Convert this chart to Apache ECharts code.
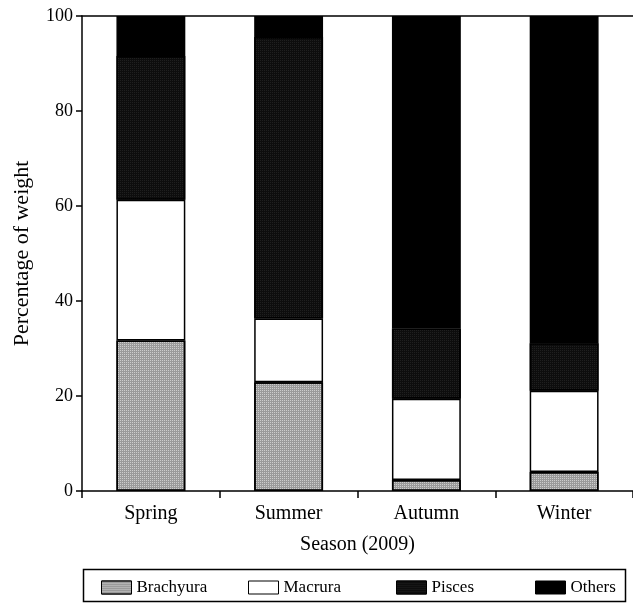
<!DOCTYPE html>
<html>
<head>
<meta charset="utf-8">
<script src="https://cdn.jsdelivr.net/npm/echarts@6/dist/echarts.min.js"></script>
<style>
  html, body { margin: 0; padding: 0; background: #fff; }
  #chart { width: 633px; height: 605px; }
</style>
</head>
<body>
<div id="chart"></div>
<script>
const seasons = ["Spring", "Summer", "Autumn", "Winter"];
const yTicks = [0, 20, 40, 60, 80, 100];

// percentage of weight per prey group
const brachyura = [31.7, 22.9, 2.3, 4.0];
const macrura = [29.6, 13.4, 17.1, 17.1];
const pisces = [30.3, 59.3, 14.8, 10.0];
const others = [8.4, 4.4, 65.8, 68.9];

const font = "'Liberation Serif', 'DejaVu Serif', serif";

const chart = echarts.init(document.getElementById("chart"));

function bar(name, data, color, decal) {
  return {
    name: name,
    type: "bar",
    stack: "total",
    barWidth: "50%",
    data: data,
    itemStyle: {
      color: color,
      borderColor: "#000",
      borderWidth: 1.5,
      decal: decal
    }
  };
}

// stipple texture
const dots = {
  symbol: "rect",
  symbolSize: 1,
  color: "rgba(255,255,255,0.5)",
  dashArrayX: [1, 1],
  dashArrayY: [1, 1],
  rotation: 0
};

function legendAt(name, left) {
  return {
    data: [{ name: name, icon: "rect" }],
    left: left,
    top: 579,
    padding: 0,
    itemWidth: 30,
    itemHeight: 13,
    itemGap: 0,
    selectedMode: false,
    textStyle: { fontFamily: font, fontSize: 17, color: "#000" },
    itemStyle: { borderColor: "#000", borderWidth: 1 }
  };
}

chart.setOption({
  animation: false,
  backgroundColor: "#fff",
  grid: { left: 82, right: 0, top: 16, bottom: 114 },
  legend: [
    legendAt("Brachyura", 101),
    legendAt("Macrura", 248),
    legendAt("Pisces", 396),
    legendAt("Others", 535)
  ],
  graphic: [{
    type: "rect",
    shape: { x: 83.5, y: 569.5, width: 542, height: 32 },
    style: { fill: "none", stroke: "#000", lineWidth: 1.5 },
    z: 0
  }],
  xAxis: [{
    type: "category",
    data: seasons,
    name: "Season (2009)",
    nameLocation: "middle",
    nameGap: 44,
    nameTextStyle: { fontFamily: font, fontSize: 20, color: "#000" },
    axisLine: { lineStyle: { color: "#000", width: 1.5 } },
    axisTick: { show: true, length: 7, lineStyle: { color: "#000", width: 1.5 } },
    axisLabel: { fontFamily: font, fontSize: 20, color: "#000", margin: 13 }
  }, {
    type: "category",
    data: seasons,
    position: "top",
    axisLine: { show: true, lineStyle: { color: "#000", width: 1.5 } },
    axisTick: { show: false },
    axisLabel: { show: false }
  }],
  yAxis: {
    type: "value",
    min: yTicks[0],
    max: yTicks[yTicks.length - 1],
    interval: 20,
    name: "Percentage of weight",
    nameLocation: "middle",
    nameRotate: 90,
    nameGap: 49,
    nameTextStyle: { fontFamily: font, fontSize: 22, color: "#000" },
    axisLine: { show: true, lineStyle: { color: "#000", width: 1.5 } },
    axisTick: { show: true, length: 6, lineStyle: { color: "#000", width: 1.5 } },
    axisLabel: { fontFamily: font, fontSize: 18, color: "#000", margin: 9 },
    splitLine: { show: false }
  },
  series: [
    bar("Brachyura", brachyura, "#9a9a9a", dots),
    bar("Macrura", macrura, "#ffffff"),
    bar("Pisces", pisces, "#0d0d0d", Object.assign({}, dots, { color: "rgba(255,255,255,0.08)" })),
    bar("Others", others, "#000000")
  ]
});
</script>
</body>
</html>
